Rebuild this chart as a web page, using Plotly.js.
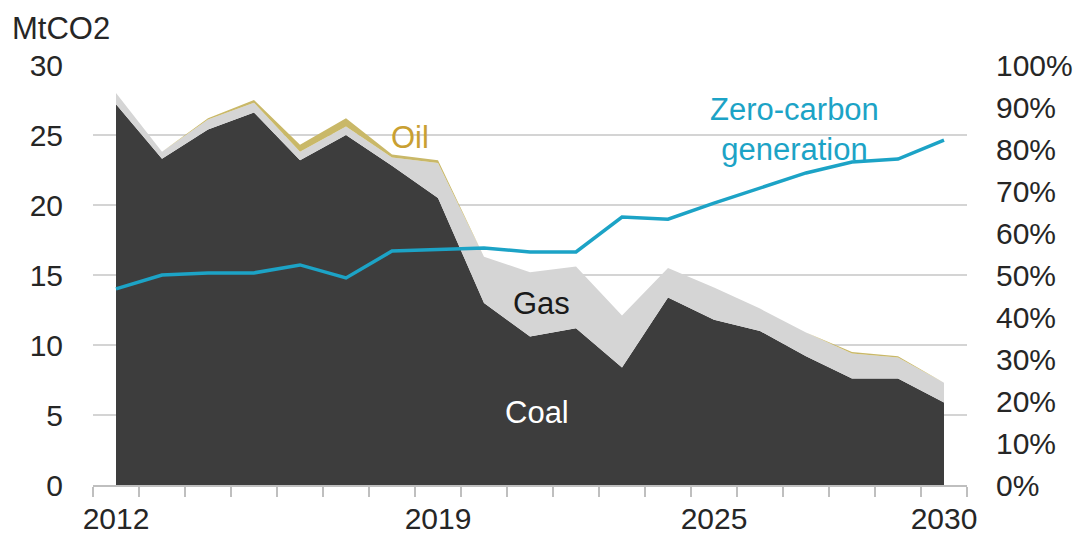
<!DOCTYPE html>
<html>
<head>
<meta charset="utf-8">
<script src="https://cdn.plot.ly/plotly-3.0.1.min.js"></script>
<style>html,body{margin:0;padding:0;background:#fff;}#chart{width:1083px;height:537px;}</style>
</head>
<body>
<div id="chart"></div>
<script>
const years = [2012,2013,2014,2015,2016,2017,2018,2019,2020,2021,2022,2023,2024,2025,2026,2027,2028,2029,2030];
const coal = [27.2,23.3,25.4,26.6,23.2,25.0,22.8,20.5,13.0,10.6,11.2,8.4,13.4,11.8,11.0,9.2,7.6,7.6,5.9];
const gas  = [0.8,0.5,0.7,0.7,0.6,0.6,0.6,2.5,3.3,4.6,4.4,3.7,2.1,2.3,1.6,1.7,1.8,1.5,1.4];
const oil  = [0.0,0.0,0.1,0.2,0.5,0.6,0.2,0.2,0.0,0.0,0.0,0.0,0.0,0.0,0.0,0.0,0.1,0.1,0.0];
const zeroCarbon = [46.7,50.0,50.5,50.5,52.4,49.3,55.7,56.0,56.4,55.5,55.5,63.8,63.3,67.1,70.7,74.3,76.9,77.6,82.1];
const xTickVals = [2012,2019,2025,2030];
const xTickText = ["2012","2019","2025","2030"];

const FONT = "Liberation Sans, Arial, sans-serif";
const TICK = 30, ANN = 31;
const traces = [
  {x: years, y: coal, type: 'scatter', mode: 'lines', stackgroup: 'one',
   line: {width: 0, color: '#3d3d3d'}, fillcolor: '#3d3d3d', hoverinfo: 'skip'},
  {x: years, y: gas, type: 'scatter', mode: 'lines', stackgroup: 'one',
   line: {width: 0, color: '#d5d5d5'}, fillcolor: '#d5d5d5', hoverinfo: 'skip'},
  {x: years, y: oil, type: 'scatter', mode: 'lines', stackgroup: 'one',
   line: {width: 0, color: '#c9b060'}, fillcolor: '#c9b868', hoverinfo: 'skip'},
  {x: years, y: zeroCarbon, type: 'scatter', mode: 'lines', yaxis: 'y2',
   line: {width: 3.5, color: '#1ca3c6'}, hoverinfo: 'skip'}
];

const layout = {
  width: 1083, height: 537,
  margin: {l: 93, r: 116, t: 65, b: 52},
  paper_bgcolor: '#fff', plot_bgcolor: '#fff',
  showlegend: false,
  font: {family: FONT, size: TICK, color: '#262626'},
  xaxis: {
    range: [2011.5, 2030.5], tickmode: 'array', tickvals: xTickVals, ticktext: xTickText,
    ticks: '', showgrid: false, zeroline: false,
    showline: true, linecolor: '#bfbfbf', linewidth: 1.5,
    ticklabelstandoff: 6,
    tickfont: {family: FONT, size: TICK, color: '#262626'},
    minor: {tickmode: 'linear', tick0: 2011.5, dtick: 1, ticks: 'outside', ticklen: 10, tickcolor: '#bfbfbf', tickwidth: 1.5, showgrid: false}
  },
  yaxis: {
    range: [0, 30], dtick: 5, tick0: 0,
    showgrid: true, gridcolor: '#d4d4d4', gridwidth: 1.5, zeroline: false,
    ticks: '', ticklabelstandoff: 29,
    tickfont: {family: FONT, size: TICK, color: '#262626'}
  },
  yaxis2: {
    range: [0, 100], dtick: 10, tick0: 0, overlaying: 'y', side: 'right',
    showgrid: false, zeroline: false, ticks: '', ticksuffix: '%',
    ticklabelstandoff: 28,
    tickfont: {family: FONT, size: TICK, color: '#262626'}
  },
  annotations: [
    {text: 'MtCO2', xref: 'paper', yref: 'paper', x: -0.095, y: 1.088, xanchor: 'left', yanchor: 'middle',
     showarrow: false, font: {family: FONT, size: ANN, color: '#262626'}},
    {text: 'Oil', xref: 'x', yref: 'y', x: 2018.39, y: 24.8, showarrow: false,
     font: {family: FONT, size: ANN, color: '#c9a032'}},
    {text: 'Gas', xref: 'x', yref: 'y', x: 2021.26, y: 13.0, showarrow: false,
     font: {family: FONT, size: ANN, color: '#1a1a1a'}},
    {text: 'Coal', xref: 'x', yref: 'y', x: 2021.15, y: 5.2, showarrow: false,
     font: {family: FONT, size: ANN, color: '#ffffff'}},
    {text: 'Zero-carbon<br>generation', xref: 'x', yref: 'y', x: 2026.76, y: 25.4, showarrow: false,
     align: 'center', font: {family: FONT, size: ANN, color: '#1ca3c6'}}
  ]
};

Plotly.newPlot('chart', traces, layout, {staticPlot: true, displayModeBar: false});
</script>
</body>
</html>
